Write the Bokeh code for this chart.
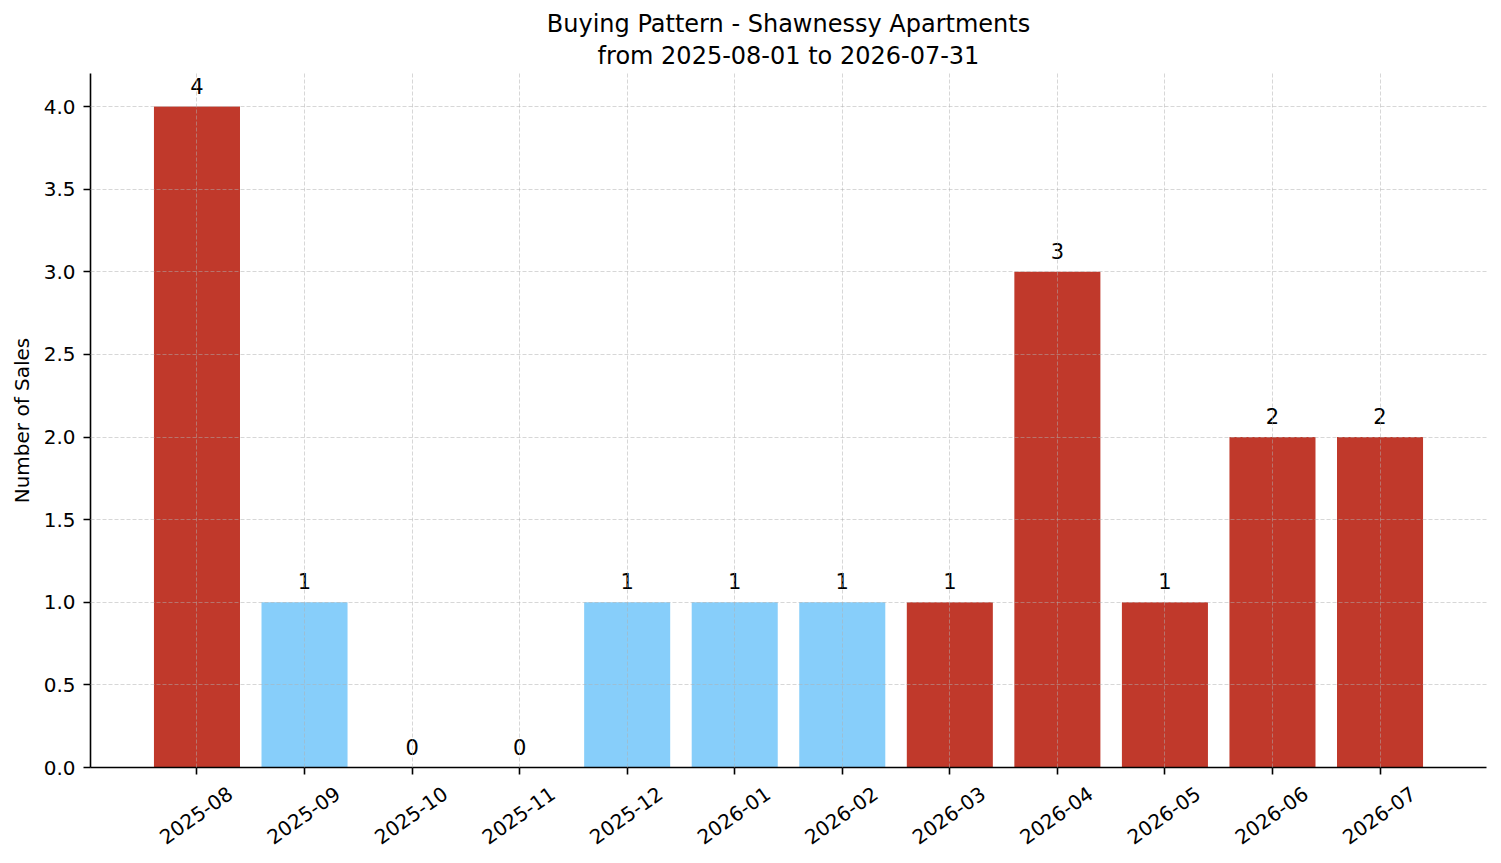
import math
from bokeh.plotting import figure
from bokeh.models import FixedTicker, ColumnDataSource, Range1d, PrintfTickFormatter, Title
from bokeh.embed import file_html
from bokeh.resources import INLINE

months = ["2025-08", "2025-09", "2025-10", "2025-11", "2025-12", "2026-01",
          "2026-02", "2026-03", "2026-04", "2026-05", "2026-06", "2026-07"]
sales = [4, 1, 0, 0, 1, 1, 1, 1, 3, 1, 2, 2]
bar_colors = ["#c0392b", "#87cefa", "#87cefa", "#87cefa", "#87cefa", "#87cefa",
              "#87cefa", "#c0392b", "#c0392b", "#c0392b", "#c0392b", "#c0392b"]
y_ticks = [0.0, 0.5, 1.0, 1.5, 2.0, 2.5, 3.0, 3.5, 4.0]
title_line1 = "Buying Pattern - Shawnessy Apartments"
title_line2 = "from 2025-08-01 to 2026-07-31"

FONT = "DejaVu Sans"
LABEL_SHIFT = 0.31  # rotated tick labels: shift anchor so the label box is centred on its tick

xs = list(range(len(months)))
label_pos = [x + LABEL_SHIFT for x in xs]
src = ColumnDataSource(dict(x=xs, top=sales, color=bar_colors,
                            label=[str(v) for v in sales]))

p = figure(width=1493, height=863, output_backend="svg", toolbar_location=None,
           x_range=Range1d(-0.99, len(months) - 1 + 0.99), y_range=Range1d(0, 4.2),
           min_border_left=90, min_border_right=7, min_border_top=73, min_border_bottom=96)
p.outline_line_color = None
p.background_fill_color = "white"
p.border_fill_color = "white"

t2 = Title(text=title_line2, align="center", text_font=FONT, text_font_size="24px",
           text_font_style="normal", text_color="#000000", standoff=8)
t1 = Title(text=title_line1, align="center", text_font=FONT, text_font_size="24px",
           text_font_style="normal", text_color="#000000", standoff=-4)
p.add_layout(t2, "above")
p.add_layout(t1, "above")

p.vbar(x="x", top="top", width=0.8, color="color", source=src, line_color=None)
p.text(x="x", y="top", text="label", source=src, text_align="center",
       text_baseline="bottom", y_offset=-13, text_font_size="21px",
       text_font={"value": FONT}, text_color="#000000")

for ax in (p.xaxis[0], p.yaxis[0]):
    ax.axis_line_color = "#000000"
    ax.axis_line_width = 1.6
    ax.major_tick_line_color = "#000000"
    ax.major_tick_line_width = 1.6
    ax.major_tick_out = 7
    ax.major_tick_in = 0
    ax.minor_tick_line_color = None
    ax.major_label_text_font = FONT
    ax.major_label_text_font_size = "20px"
    ax.major_label_text_color = "#000000"

# x axis: tick marks (as minor ticks) at bar centres, labels at shifted anchors
xa = p.xaxis[0]
xa.ticker = FixedTicker(ticks=label_pos, minor_ticks=xs)
xa.major_tick_line_color = None
xa.minor_tick_line_color = "#000000"
xa.minor_tick_line_width = 1.6
xa.minor_tick_out = 7
xa.minor_tick_in = 0
xa.major_label_overrides = {pos: m for pos, m in zip(label_pos, months)}
xa.major_label_orientation = math.radians(35)
xa.major_label_standoff = 17
p.xgrid[0].ticker = FixedTicker(ticks=xs)

p.yaxis.ticker = FixedTicker(ticks=y_ticks)
p.yaxis.formatter = PrintfTickFormatter(format="%.1f")
p.yaxis.major_label_standoff = 8
p.yaxis.axis_label = "Number of Sales"
p.yaxis.axis_label_text_font = FONT
p.yaxis.axis_label_text_font_size = "20px"
p.yaxis.axis_label_text_font_style = "normal"
p.yaxis.axis_label_text_color = "#000000"
p.yaxis.axis_label_standoff = 7

for g in (p.xgrid[0], p.ygrid[0]):
    g.grid_line_color = "#b0b0b0"
    g.grid_line_alpha = 0.5
    g.grid_line_dash = "4 2"
    g.grid_line_width = 1
    g.level = "overlay"

open("out.html", "w").write(file_html(p, INLINE))
